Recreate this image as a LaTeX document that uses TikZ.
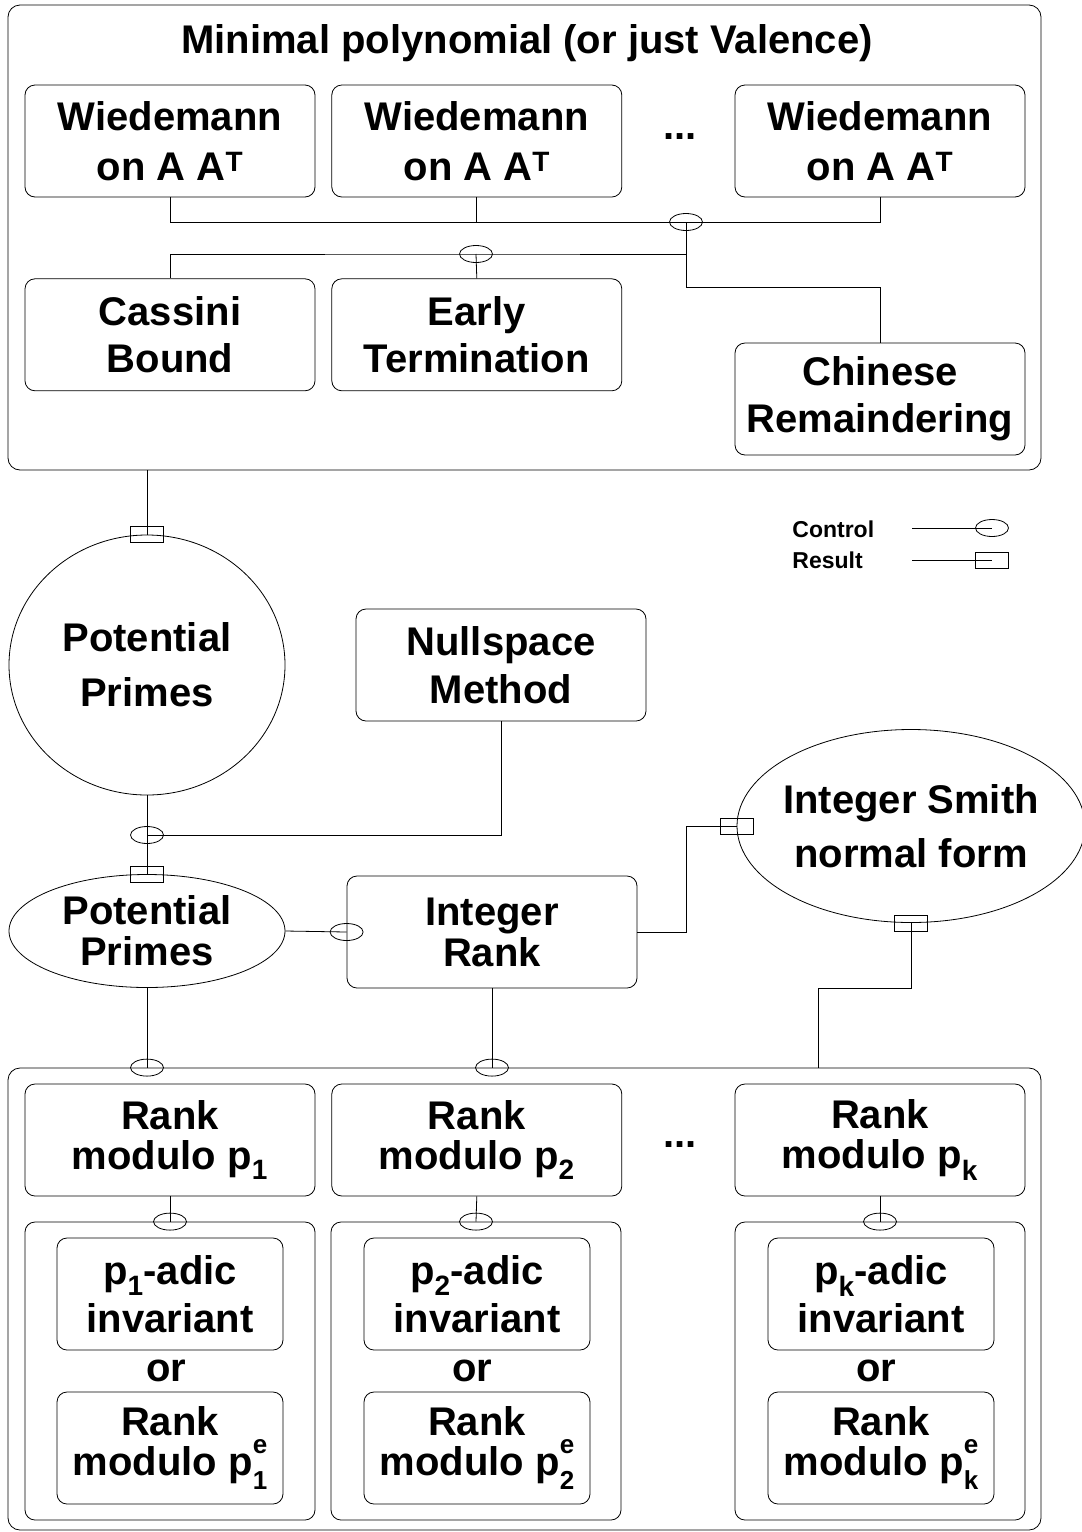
\documentclass[tikz,border=0pt]{standalone}
\usepackage{fontspec}
\setmainfont{Liberation Sans}
\usepackage{tikz}
\usetikzlibrary{positioning,shapes.geometric}

\newcommand{\psub}[1]{p\textsubscript{#1}}
\newcommand{\pesub}[1]{p\rlap{\raisebox{0.55em}{\fontsize{26}{26}\selectfont e}}\raisebox{-0.35em}{\fontsize{26}{26}\selectfont #1}}

\begin{document}
\begin{tikzpicture}[x=1pt, y=-1pt, node distance=16pt, line width=0.8pt,
    every node/.style={align=center, inner sep=0pt},
    txt/.style={font=\bfseries\fontsize{40}{#1}\selectfont},
    box/.style={draw, rounded corners=10pt, minimum width=290pt, minimum height=112pt},
    inbox/.style={box, minimum width=226pt},
    panel/.style={draw, rounded corners=12pt},
    ctrl/.style={draw, ellipse, minimum width=33pt, minimum height=17pt},
    res/.style={draw, rectangle, minimum width=33pt, minimum height=16pt},
    keytext/.style={font=\bfseries\fontsize{23}{28}\selectfont, anchor=base west}]
    \useasboundingbox (0,0) rectangle (1082,1532);

    % minimal polynomial
    \node[panel, minimum width=1033pt, minimum height=465pt] (minpoly) at (524.5,237.5) {};
    \node[txt=48] (title) at (527,43) {Minimal polynomial (or just Valence)};
    \node[box, txt=50] (w1) at (170,141) {Wiedemann\\on A A\textsuperscript{T}};
    \node[box, txt=50, right=of w1] (w2) {Wiedemann\\on A A\textsuperscript{T}};
    \node[box, txt=50] (w3) at (880,141) {Wiedemann\\on A A\textsuperscript{T}};
    \node[txt=48] (wdots) at (680,137) {...};
    \node[box, txt=47, below=81pt of w1] (cassini) {Cassini\\Bound};
    \node[box, txt=47, below=81pt of w2] (early) {Early\\Termination};
    \node[box, txt=47] (crt) at (880,399) {Chinese\\Remaindering};
    \node[ctrl] (c1) at (686,222) {};
    \node[ctrl] (c2) at (476,254) {};
    \coordinate (b1) at (686,287);
    \draw (w1.south) |- (c1.center);
    \draw (w2.south) -- (w2.south |- c1.center);
    \draw (w3.south) |- (c1.center);
    \draw (c1.center) |- (c2.center) -| (cassini.north);
    \draw (c2.center) -- (early.north);
    \draw (c1.center) -- (b1) -| (crt.north);

    % legend
    \node[keytext] (kctrl) at (792,537) {Control};
    \node[keytext] (kres) at (792,568) {Result};
    \node[ctrl] (lc) at (992,528) {};
    \node[res] (lr) at (992,560) {};
    \coordinate (lc0) at (912,528);
    \coordinate (lr0) at (912,560);
    \draw (lc0) -- (lc.center);
    \draw (lr0) -- (lr.center);

    % integer rank
    \node[draw, ellipse, minimum width=276pt, minimum height=260pt, txt=55] (pp1) at (147,665) {Potential\\Primes};
    \node[box, txt=48] (null) at (501,665) {Nullspace\\Method};
    \node[draw, ellipse, minimum width=276pt, minimum height=113pt, txt=41] (pp2) at (147,931) {Potential\\Primes};
    \node[box, txt=41] (irank) at (492,932) {Integer\\Rank};
    \node[draw, ellipse, inner xsep=-8pt, minimum width=348pt, minimum height=193pt, txt=54] (smith) at (911,826) {Integer Smith\\normal form};
    \node[res] (r1) at (pp1.north) {};
    \node[ctrl] (c3) at (147,835) {};
    \node[res] (r2) at (pp2.north) {};
    \node[ctrl] (c4) at (irank.west) {};
    \node[res] (r3) at (smith.west) {};
    \node[res] (r4) at (smith.south) {};
    \coordinate (b2) at (686,932);
    \coordinate (b3) at (818,988);
    \draw (minpoly.south -| pp1.north) -- (r1.center);
    \draw (pp1.south) -- (pp2.north);
    \draw (null.south) |- (c3.center);
    \draw (pp2.east) -- (c4.center);
    \draw (irank.east) -- (b2) |- (r3.center);

    % rank modulo primes
    \node[panel, minimum width=1033pt, minimum height=462pt] (ranks) at (524.5,1299) {};
    \node[ctrl] (c5) at (pp2.south |- ranks.north) {};
    \node[ctrl] (c6) at (irank.south |- ranks.north) {};
    \draw (pp2.south) -- (c5.center);
    \draw (irank.south) -- (c6.center);
    \draw (r4.center) |- (b3) -- (b3 |- ranks.north);

    \node[box, txt=40] (m1) at (170,1140) {Rank\\modulo \psub{1}};
    \node[box, txt=40, right=of m1] (m2) {Rank\\modulo \psub{2}};
    \node[box, txt=40] (m3) at (880,1140) {Rank\\modulo \psub{k}};
    \node[txt=48] (mdots) at (680,1145) {...};

    \node[panel, rounded corners=10pt, minimum width=290pt, minimum height=298pt] (g1) at (170,1371) {};
    \node[panel, rounded corners=10pt, minimum width=290pt, minimum height=298pt] (g2) at (476,1371) {};
    \node[panel, rounded corners=10pt, minimum width=290pt, minimum height=298pt] (g3) at (880,1371) {};
    \node[ctrl] (d1) at (g1.north) {};
    \node[ctrl] (d2) at (g2.north) {};
    \node[ctrl] (d3) at (g3.north) {};
    \draw (m1.south) -- (d1.center);
    \draw (m2.south) -- (d2.center);
    \draw (m3.south) -- (d3.center);

    \node[inbox, txt=48] (a1) at (170,1294) {\psub{1}-adic\\invariant};
    \node[inbox, txt=48] (a2) at (477,1294) {\psub{2}-adic\\invariant};
    \node[inbox, txt=48] (a3) at (881,1294) {\psub{k}-adic\\invariant};
    \node[txt=48] (o1) at (166,1371) {or};
    \node[txt=48] (o2) at (472,1371) {or};
    \node[txt=48] (o3) at (876,1371) {or};
    \node[inbox, txt=40] (e1) at (170,1448) {Rank\\modulo \pesub{1}};
    \node[inbox, txt=40] (e2) at (477,1448) {Rank\\modulo \pesub{2}};
    \node[inbox, txt=40] (e3) at (881,1448) {Rank\\modulo \pesub{k}};
\end{tikzpicture}
\end{document}
